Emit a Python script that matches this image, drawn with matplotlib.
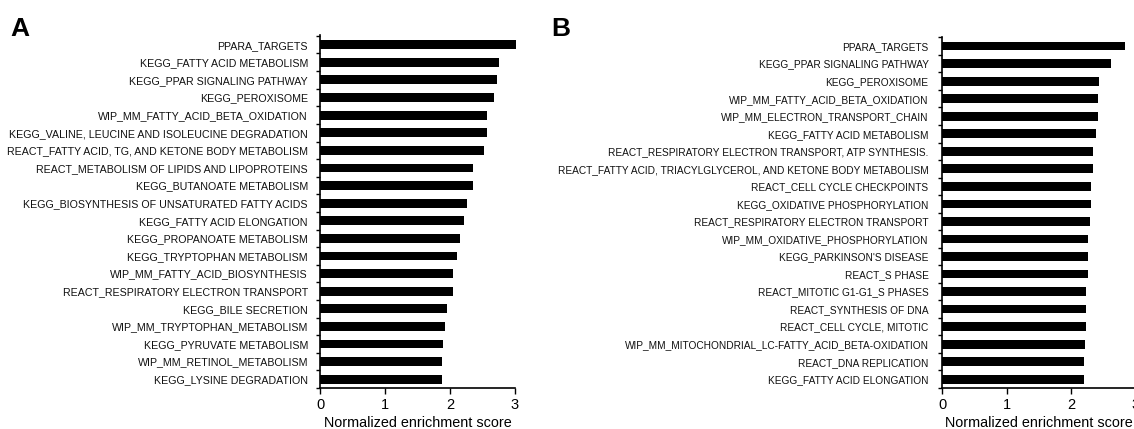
import matplotlib.pyplot as plt
import numpy as np

plt.rcParams['font.family'] = ['Liberation Sans', 'DejaVu Sans']

# panel A: gene sets and NES (top to bottom)
labels_a = [
    "PPARA_TARGETS",
    "KEGG_FATTY ACID METABOLISM",
    "KEGG_PPAR SIGNALING PATHWAY",
    "KEGG_PEROXISOME",
    "WIP_MM_FATTY_ACID_BETA_OXIDATION",
    "KEGG_VALINE, LEUCINE AND ISOLEUCINE DEGRADATION",
    "REACT_FATTY ACID, TG, AND KETONE BODY METABOLISM",
    "REACT_METABOLISM OF LIPIDS AND LIPOPROTEINS",
    "KEGG_BUTANOATE METABOLISM",
    "KEGG_BIOSYNTHESIS OF UNSATURATED FATTY ACIDS",
    "KEGG_FATTY ACID ELONGATION",
    "KEGG_PROPANOATE METABOLISM",
    "KEGG_TRYPTOPHAN METABOLISM",
    "WIP_MM_FATTY_ACID_BIOSYNTHESIS",
    "REACT_RESPIRATORY ELECTRON TRANSPORT",
    "KEGG_BILE SECRETION",
    "WIP_MM_TRYPTOPHAN_METABOLISM",
    "KEGG_PYRUVATE METABOLISM",
    "WIP_MM_RETINOL_METABOLISM",
    "KEGG_LYSINE DEGRADATION",
]
nes_a = [3.01, 2.76, 2.72, 2.68, 2.57, 2.57, 2.53, 2.35, 2.35, 2.26,
         2.22, 2.16, 2.10, 2.05, 2.04, 1.95, 1.92, 1.89, 1.88, 1.88]

# panel B
labels_b = [
    "PPARA_TARGETS",
    "KEGG_PPAR SIGNALING PATHWAY",
    "KEGG_PEROXISOME",
    "WIP_MM_FATTY_ACID_BETA_OXIDATION",
    "WIP_MM_ELECTRON_TRANSPORT_CHAIN",
    "KEGG_FATTY ACID METABOLISM",
    "REACT_RESPIRATORY ELECTRON TRANSPORT, ATP SYNTHESIS.",
    "REACT_FATTY ACID, TRIACYLGLYCEROL, AND KETONE BODY METABOLISM",
    "REACT_CELL CYCLE CHECKPOINTS",
    "KEGG_OXIDATIVE PHOSPHORYLATION",
    "REACT_RESPIRATORY ELECTRON TRANSPORT",
    "WIP_MM_OXIDATIVE_PHOSPHORYLATION",
    "KEGG_PARKINSON'S DISEASE",
    "REACT_S PHASE",
    "REACT_MITOTIC G1-G1_S PHASES",
    "REACT_SYNTHESIS OF DNA",
    "REACT_CELL CYCLE, MITOTIC",
    "WIP_MM_MITOCHONDRIAL_LC-FATTY_ACID_BETA-OXIDATION",
    "REACT_DNA REPLICATION",
    "KEGG_FATTY ACID ELONGATION",
]
nes_b = [2.83, 2.61, 2.42, 2.41, 2.41, 2.38, 2.33, 2.33, 2.31, 2.30,
         2.29, 2.26, 2.26, 2.26, 2.23, 2.23, 2.22, 2.21, 2.20, 2.20]

xticks = [0, 1, 2, 3]

fig = plt.figure(figsize=(11.34, 4.29), dpi=100)
ax_a = fig.add_axes([0.2826, 0.0956, 0.1715, 0.8228])
ax_b = fig.add_axes([0.8311, 0.0956, 0.1706, 0.8174])


def draw_panel(ax, labels, vals, lab_size, lab_pad, top):
    n = len(labels)
    y = np.arange(n)
    ax.barh(y, vals, height=0.5, color='black', clip_on=False)
    ax.set_ylim(n - 0.5, top)
    ax.set_xlim(0, 3)
    ax.set_yticks(y)
    ax.set_yticklabels(labels, fontsize=lab_size, color='#111111')
    ax.tick_params(axis='y', which='major', length=0, pad=lab_pad)
    ax.set_yticks(np.arange(n + 1) - 0.5, minor=True)
    ax.tick_params(axis='y', which='minor', length=3, width=1, direction='out')
    ax.set_xticks(xticks)
    ax.tick_params(axis='x', length=4, width=1, labelsize=10.5, pad=3)
    ax.set_xlabel('Normalized enrichment score', fontsize=10.4, labelpad=3)
    for s in ['top', 'right']:
        ax.spines[s].set_visible(False)
    ax.spines['left'].set_linewidth(1.2)
    ax.spines['bottom'].set_linewidth(1.2)


draw_panel(ax_a, labels_a, nes_a, 7.7, 9, -0.55)
draw_panel(ax_b, labels_b, nes_b, 7.3, 10, -0.5)

fig.text(0.009, 0.917, 'A', fontsize=19, fontweight='bold', ha='left', va='baseline')
fig.text(0.486, 0.917, 'B', fontsize=19, fontweight='bold', ha='left', va='baseline')

fig.savefig('out.png', dpi=100)
